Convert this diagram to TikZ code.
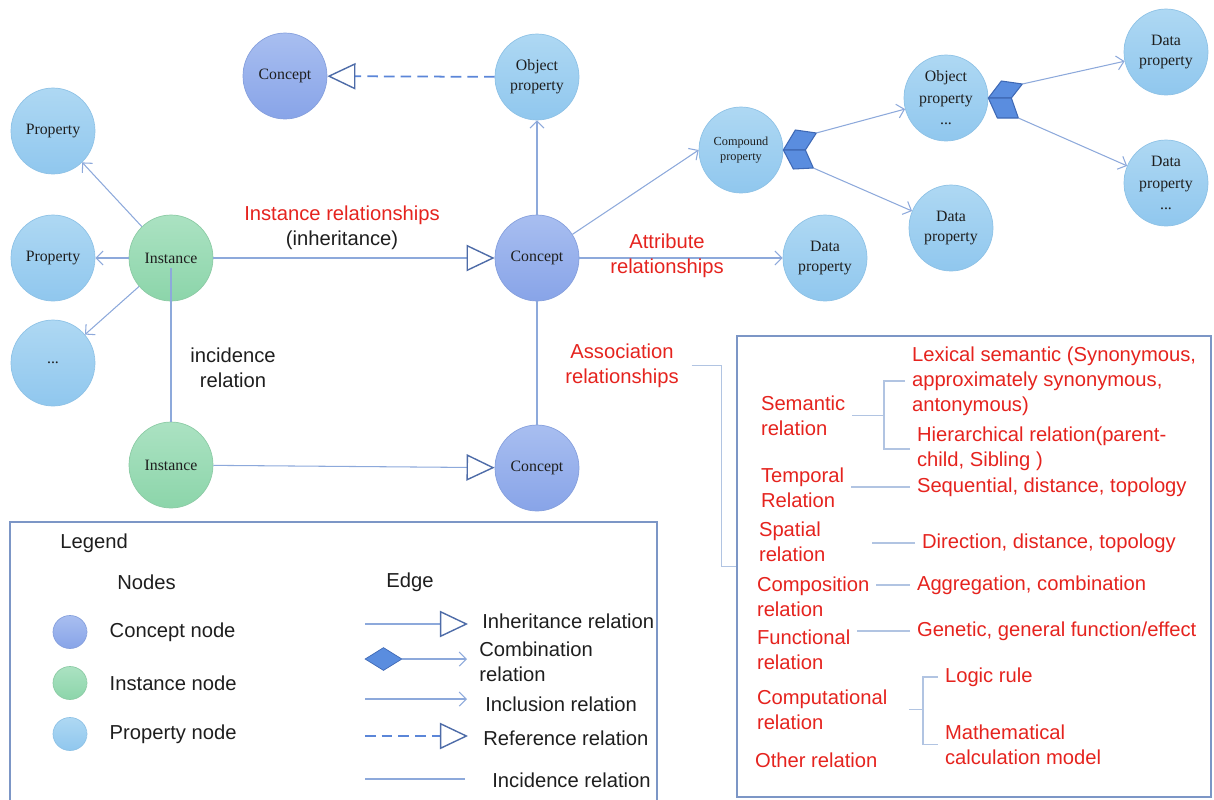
\documentclass[tikz,border=0pt]{standalone}
\usepackage{fontspec}
\setmainfont{Liberation Sans}
\newfontfamily\nodefont{Liberation Serif}
\usetikzlibrary{arrows.meta, positioning, shapes.geometric}

\definecolor{relred}{HTML}{E5231E}
\definecolor{edgecol}{HTML}{8DA9DB}
\definecolor{tricol}{HTML}{4E6CA8}
\definecolor{dashcol}{HTML}{5B86D8}
\definecolor{chevcol}{HTML}{5A8DDF}
\definecolor{chevdark}{HTML}{3F69B5}
\definecolor{conceptTop}{HTML}{A8BEF0}
\definecolor{conceptBot}{HTML}{88A4E8}
\definecolor{conceptdark}{HTML}{86A0DD}
\definecolor{instTop}{HTML}{ABE2C2}
\definecolor{instBot}{HTML}{8CD5AA}
\definecolor{instdark}{HTML}{8CCBA5}
\definecolor{propTop}{HTML}{AED8F3}
\definecolor{propBot}{HTML}{90C7EE}
\definecolor{propdark}{HTML}{8EC2E6}
\definecolor{boxcol}{HTML}{7C96C6}
\definecolor{brkcol}{HTML}{B1C4E2}
\definecolor{txtcol}{HTML}{1E1E1E}

\begin{document}
\begin{tikzpicture}[
    x=0.02cm, y=-0.02cm,
    font=\fontsize{11.5}{14.2}\selectfont,
    text=txtcol,
    concfill/.style={draw=conceptdark, top color=conceptTop, bottom color=conceptBot},
    instfill/.style={draw=instdark, top color=instTop, bottom color=instBot},
    propfill/.style={draw=propdark, top color=propTop, bottom color=propBot},
    bubble/.style={ellipse, minimum width=1.68cm, minimum height=1.72cm, inner sep=1pt, align=center, font=\nodefont\fontsize{9}{11.3}\selectfont},
    conceptnode/.style={bubble, concfill},
    instancenode/.style={bubble, instfill},
    propnode/.style={bubble, propfill},
    legcirc/.style={ellipse, minimum width=0.68cm, minimum height=0.66cm, inner sep=0pt},
    incl/.style={draw=edgecol, line width=0.6pt, -{Straight Barb[length=4pt, width=8pt]}},
    inher/.style={draw=edgecol, line width=0.6pt, -{Triangle[open, length=16pt, width=15pt, color=tricol, line width=0.8pt]}},
    refer/.style={draw=dashcol, line width=1pt, dash pattern=on 6pt off 3.5pt, -{Triangle[open, length=16pt, width=15pt, color=tricol, line width=0.8pt]}},
    incid/.style={draw=edgecol, line width=0.6pt},
    brk/.style={draw=brkcol, line width=0.6pt},
    chev/.style={fill=chevcol, draw=chevdark, line width=0.6pt, line join=round},
    lab/.style={align=center},
    rel/.style={text=relred, align=left, anchor=west, inner sep=0pt, outer sep=4pt},
    legtext/.style={align=left, anchor=west, inner sep=0pt},
    box/.style={draw=boxcol, line width=0.8pt, inner sep=0pt}
]
\useasboundingbox (0,0) rectangle (1214,799);

% Concepts and instances
\node[conceptnode] (con1) at (537,258) {Concept};
\node[conceptnode] (con2) at (537,468) {Concept};
\node[conceptnode] (conTop) at (285,76) {Concept};
\node[instancenode] (inst1) at (171,258) {Instance};
\node[instancenode] (inst2) at (171,465) {Instance};

% Properties
\node[propnode] (prop1) at (53,131) {Property};
\node[propnode] (prop2) at (53,258) {Property};
\node[propnode] (prop3) at (53,363) {...};
\node[propnode] (objTop) at (537,77) {Object\\property};
\node[propnode] (data4) at (825,258) {Data\\property};
\node[propnode, font=\nodefont\fontsize{7}{8.5}\selectfont] (cmp) at (741,150) {Compound\\property};
\node[propnode] (obj2) at (946,98) {Object\\[1pt]property\\[1pt]...};
\node[propnode] (data3) at (951,228) {Data\\property};
\node[propnode] (data1) at (1166,52) {Data\\property};
\node[propnode] (data2) at (1166,183) {Data\\[1pt]property\\[1pt]...};

% Combination markers
\begin{scope}[shift={(cmp.east)}]
  \filldraw[chev] (0,0) -- (12,-20) -- (33,-17) -- (22,0) -- cycle;
  \filldraw[chev] (0,0) -- (22,0) -- (30,18) -- (10,19) -- cycle;
  \coordinate (cmpU) at (33,-17);
  \coordinate (cmpD) at (30,18);
\end{scope}
\begin{scope}[shift={(obj2.east)}]
  \filldraw[chev] (0,0) -- (13,-17) -- (34,-14) -- (23,0) -- cycle;
  \filldraw[chev] (0,0) -- (23,0) -- (30,20) -- (9,20) -- cycle;
  \coordinate (objU) at (34,-14);
  \coordinate (objD) at (30,20);
\end{scope}

% Edges
\draw[incl] (inst1) -- (prop1);
\draw[incl] (inst1) -- (prop2);
\draw[incl] (inst1) -- (prop3);
\draw[inher] (inst1) -- (con1);
\draw[inher] (inst2) -- (con2);
\draw[incid] ([yshift=-0.2cm]inst1.center) -- (inst2);
\draw[incid] (con1) -- (con2);
\draw[incl] (con1) -- (objTop);
\draw[refer] (objTop) -- (conTop);
\draw[incl] (con1) -- (cmp.west);
\draw[incl] (con1) -- (data4);
\draw[incl] (cmpU) -- (obj2);
\draw[incl] (cmpD) -- (data3);
\draw[incl] (objU) -- (data1);
\draw[incl] (objD) -- (data2);

% Labels
\node[lab] (instLbl) at (342,227.5) {\textcolor{relred}{Instance relationships}\\(inheritance)};
\node[lab, text=relred] (attrLbl) at (667,255.5) {Attribute\\relationships};
\node[lab, text=relred, outer sep=4pt] (assocLbl) at (622,365.5) {Association\\relationships};
\node[lab] (incLbl) at (233,367.5) {incidence\\relation};

% Relation box
\node[box, minimum width=9.48cm, minimum height=9.22cm] (relbox) at (974,566.5) {};
\draw[brk] (assocLbl.east) -- ++(30,0) |- (relbox.west);

\node[rel] (sem) at (754,415.5) {Semantic\\relation};
\node[rel] (lex) at (905,381) {Lexical semantic (Synonymous,\\approximately synonymous,\\antonymous)};
\node[rel] (hier) at (910,449) {Hierarchical relation(parent-\\child, Sibling )};
\node[rel] (tmp) at (754,487.5) {Temporal\\Relation};
\node[rel] (seq) at (910,487) {Sequential, distance, topology};
\node[rel] (spa) at (752,542) {Spatial\\relation};
\node[rel] (dir) at (915,543) {Direction, distance, topology};
\node[rel] (comp) at (750,596.5) {Composition\\relation};
\node[rel] (agg) at (910,585) {Aggregation, combination};
\node[rel] (func) at (750,649.5) {Functional\\relation};
\node[rel] (gen) at (910,631) {Genetic, general function/effect};
\node[rel] (calc) at (750,709.5) {Computational\\relation};
\node[rel] (logic) at (938,677) {Logic rule};
\node[rel] (math) at (938,744.5) {Mathematical\\calculation model};
\node[rel] (other) at (748,760) {Other relation};

\coordinate (semJ) at (884,409);
\draw[brk] (sem.east) -- (sem.east -| semJ);
\draw[brk] (lex.west) -| (semJ) |- (hier.west);
\draw[brk] (seq.west) -- (seq.west -| tmp.east);
\draw[brk, shorten >=0.8cm] (dir.west) -- (dir.west -| spa.east);
\draw[brk] (agg.west) -- (agg.west -| comp.east);
\draw[brk] (gen.west) -- (gen.west -| func.east);
\coordinate (calcJ) at (923,708);
\draw[brk, shorten <=0.3cm] (calc.east) -- (calc.east -| calcJ);
\draw[brk] (logic.west) -| (calcJ) |- (math.west);

% Legend
\node[box, minimum width=12.94cm, minimum height=5.62cm] (legbox) at (333.5,662.5) {};
\node[legtext] (legTitle) at (60,543) {Legend};
\node[legtext] (nodesTitle) at (117,582) {Nodes};
\node[inner sep=0pt] (edgeTitle) at (410,582) {Edge};

\node[legcirc, concfill] (lc1) at (70,632) {};
\node[legtext, right=0.44cm of lc1] (lt1) {Concept node};
\node[legcirc, instfill] (lc2) at (70,683) {};
\node[legtext, right=0.44cm of lc2] (lt2) {Instance node};
\node[legcirc, propfill] (lc3) at (70,734) {};
\node[legtext, right=0.44cm of lc3] (lt3) {Property node};

\coordinate (e1a) at (365,624);
\coordinate (e1b) at (468,624);
\draw[inher] (e1a) -- (e1b);
\node[legtext] (le1) at (482,621) {Inheritance relation};
\node[diamond, fill=chevcol, draw=chevdark, minimum width=0.74cm, minimum height=0.46cm, inner sep=0pt] (dia) at (383.5,659) {};
\coordinate (e2b) at (467,659);
\draw[incl] (dia) -- (e2b);
\node[legtext] (le2) at (479,661.5) {Combination\\relation};
\coordinate (e3a) at (365,699);
\coordinate (e3b) at (467,699);
\draw[incl] (e3a) -- (e3b);
\node[legtext] (le3) at (485,704) {Inclusion relation};
\coordinate (e4a) at (365,736);
\coordinate (e4b) at (468,736);
\draw[refer] (e4a) -- (e4b);
\node[legtext] (le4) at (483,738) {Reference relation};
\coordinate (e5a) at (365,779);
\coordinate (e5b) at (465,779);
\draw[incid] (e5a) -- (e5b);
\node[legtext] (le5) at (492,780) {Incidence relation};

\end{tikzpicture}
\end{document}
